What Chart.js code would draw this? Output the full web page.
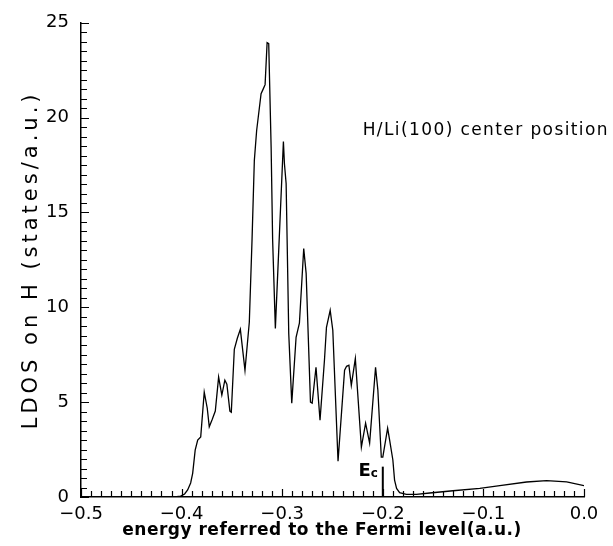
<!DOCTYPE html>
<html>
<head>
<meta charset="utf-8">
<script src="https://cdn.jsdelivr.net/npm/chart.js@4.4.0/dist/chart.umd.min.js"></script>
<style>
  html, body { margin: 0; padding: 0; background: #fff; }
  #wrap { width: 613px; height: 546px; }
</style>
</head>
<body>
<div id="wrap"><canvas id="ldos" width="613" height="546"></canvas></div>
<script>
// energy (a.u., relative to Fermi level) and LDOS on H (states/a.u.)
const ENERGY = [
  -0.5, -0.407, -0.401, -0.397, -0.394, -0.391, -0.389, -0.3865, -0.384, -0.381,
  -0.3775, -0.3745, -0.3725, -0.3695, -0.3665, -0.3632, -0.36, -0.357, -0.355, -0.352,
  -0.3506, -0.3476, -0.3446, -0.3416, -0.337, -0.3327, -0.33, -0.3277, -0.3254, -0.321,
  -0.3187, -0.317, -0.315, -0.3134, -0.311, -0.3095, -0.3068, -0.2988, -0.2978, -0.2961,
  -0.2951, -0.2935, -0.2905, -0.2862, -0.2829, -0.2786, -0.2762, -0.2719, -0.2702, -0.2664,
  -0.2624, -0.258, -0.256, -0.2523, -0.2497, -0.2445, -0.238, -0.236, -0.2337, -0.2313,
  -0.2273, -0.2213, -0.2171, -0.2131, -0.2072, -0.2049, -0.2015, -0.2, -0.1952, -0.1932,
  -0.19, -0.1883, -0.1863, -0.1833, -0.1766, -0.1666, -0.1534, -0.1302, -0.1036, -0.0837,
  -0.0571, -0.0372, -0.0172, 0.0
];
const LDOS = [
  0, 0, 0.05, 0.16, 0.37, 0.74, 1.25, 2.47, 3.0, 3.17,
  5.53, 4.68, 3.7, 4.1, 4.53, 6.32, 5.37, 6.16, 5.95, 4.53,
  4.47, 7.79, 8.37, 8.84, 6.68, 9.21, 13.53, 17.74, 19.32, 21.26,
  21.53, 21.74, 23.95, 23.9, 18.42, 13.53, 8.89, 18.74, 17.58, 16.53,
  13.53, 8.63, 4.95, 8.42, 9.16, 13.1, 11.79, 5.0, 4.95, 6.84,
  4.05, 7.21, 8.95, 9.84, 8.79, 1.89, 6.68, 6.89, 6.95, 5.89,
  7.3, 2.63, 3.89, 2.84, 6.84, 5.63, 2.1, 2.1, 3.63, 3.0,
  1.95, 0.89, 0.45, 0.23, 0.14, 0.14, 0.21, 0.33, 0.46, 0.6,
  0.79, 0.86, 0.8, 0.6
];
const X_TICKS = [-0.5, -0.4, -0.3, -0.2, -0.1, 0.0];
const Y_TICKS = [0, 5, 10, 15, 20, 25];
const E_C = -0.2;
const E_C_HEIGHT = 1.6;
const NOTE = 'H/Li(100) center position';
const X_TITLE = 'energy referred to the Fermi level(a.u.)';
const Y_TITLE = 'LDOS on H (states/a.u.)';

const points = ENERGY.map((e, i) => ({ x: e, y: LDOS[i] }));

// inward ticks, E_c marker, note and axis titles (titles drawn here for the wide lettering)
const extras = {
  id: 'extras',
  afterDatasetsDraw(chart) {
    const { ctx, chartArea: a, scales: { x, y } } = chart;
    ctx.save();
    ctx.strokeStyle = '#000';
    ctx.lineWidth = 1.2;
    ctx.beginPath();
    for (let i = 0; i <= 50; i++) {
      const px = Math.round(x.getPixelForValue(-0.5 + i * 0.01)) + 0.5;
      const len = i % 10 === 0 ? 8 : 6;
      ctx.moveTo(px, a.bottom);
      ctx.lineTo(px, a.bottom - len);
    }
    for (let i = 0; i <= 50; i++) {
      const py = Math.round(y.getPixelForValue(i * 0.5)) + 0.5;
      const len = i % 10 === 0 ? 8 : 6;
      ctx.moveTo(a.left, py);
      ctx.lineTo(a.left + len, py);
    }
    ctx.stroke();

    // E_c marker
    const ex = x.getPixelForValue(E_C);
    ctx.lineWidth = 2;
    ctx.beginPath();
    ctx.moveTo(ex, y.getPixelForValue(0));
    ctx.lineTo(ex, y.getPixelForValue(E_C_HEIGHT));
    ctx.stroke();
    ctx.fillStyle = '#000';
    ctx.textBaseline = 'alphabetic';
    ctx.textAlign = 'right';
    ctx.font = 'bold 12px "DejaVu Sans"';
    ctx.fillText('c', ex - 5, y.getPixelForValue(1.05));
    ctx.font = 'bold 18px "DejaVu Sans"';
    ctx.fillText('E', ex - 12, y.getPixelForValue(1.1));

    // note
    ctx.textAlign = 'left';
    ctx.textBaseline = 'middle';
    ctx.letterSpacing = '1.4px';
    ctx.font = '17px "DejaVu Sans"';
    ctx.fillText(NOTE, x.getPixelForValue(-0.22), y.getPixelForValue(19.3));

    // axis titles
    ctx.textAlign = 'center';
    ctx.letterSpacing = '0.5px';
    ctx.font = 'bold 17px "DejaVu Sans"';
    ctx.fillText(X_TITLE, 322, 531);

    ctx.translate(32, (a.top + a.bottom) / 2);
    ctx.rotate(-Math.PI / 2);
    ctx.letterSpacing = '4px';
    ctx.font = '21px "DejaVu Sans"';
    ctx.fillText(Y_TITLE, 0, 0);
    ctx.restore();
  }
};

new Chart(document.getElementById('ldos'), {
  type: 'line',
  data: {
    datasets: [{
      data: points,
      borderColor: '#000',
      borderWidth: 1.3,
      pointRadius: 0,
      tension: 0,
      fill: false
    }]
  },
  options: {
    responsive: false,
    animation: false,
    layout: { padding: { left: 0, top: 22, right: 29, bottom: 0 } },
    plugins: { legend: { display: false }, tooltip: { enabled: false } },
    scales: {
      x: {
        type: 'linear',
        min: -0.5,
        max: 0,
        afterBuildTicks: s => { s.ticks = X_TICKS.map(v => ({ value: v })); },
        afterFit: s => { s.height = 49; },
        grid: { display: false, drawTicks: false },
        border: { display: true, color: '#000', width: 1.5 },
        ticks: {
          color: '#000',
          padding: 7,
          maxRotation: 0,
          font: { family: 'DejaVu Sans', size: 18 },
          callback: v => (Math.abs(v) < 1e-9 ? '0.0' : v.toFixed(1).replace('-', '\u2212'))
        }
      },
      y: {
        min: 0,
        max: 25,
        afterBuildTicks: s => { s.ticks = Y_TICKS.map(v => ({ value: v })); },
        afterFit: s => { s.width = 81; },
        grid: { display: false, drawTicks: false },
        border: { display: true, color: '#000', width: 1.5 },
        ticks: {
          color: '#000',
          padding: 12,
          font: { family: 'DejaVu Sans', size: 18 }
        }
      }
    }
  },
  plugins: [extras]
});
</script>
</body>
</html>
